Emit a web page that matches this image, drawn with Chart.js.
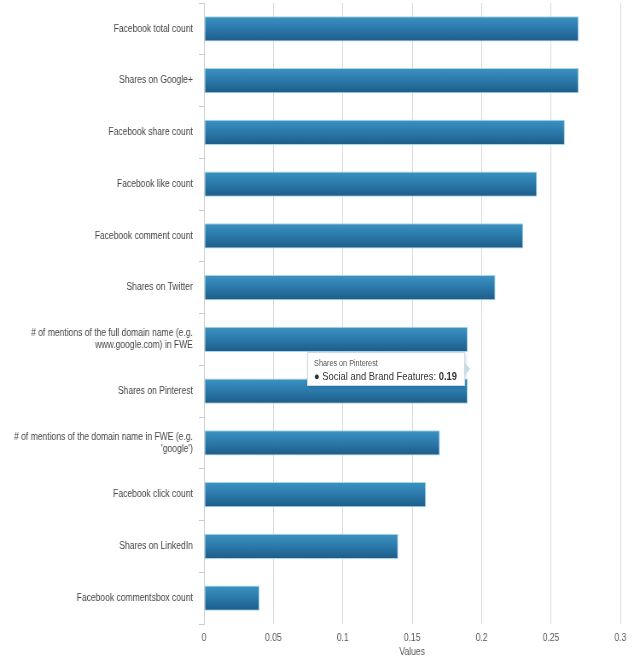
<!DOCTYPE html>
<html>
<head>
<meta charset="utf-8">
<script src="https://cdn.jsdelivr.net/npm/chart.js@4"></script>
<style>
  html, body { margin: 0; padding: 0; background: #fff; overflow: hidden; }
  /* the reference is squeezed sideways, so draw wider and scale down in x */
  #wrap { position: relative; width: 750px; height: 664px; transform: scaleX(0.85333); transform-origin: 0 0; }
  #tip {
    position: absolute; background: #fff; border: 1px solid #c9dce6;
    box-shadow: 1px 1px 3px rgba(0,0,0,0.15); padding: 5px 8px 4px 7px;
    font-family: "Liberation Sans", Arial, sans-serif; color: #333;
    white-space: nowrap; display: none; box-sizing: border-box; height: 34px;
  }
  #tip .t { font-size: 8.5px; color: #555; margin-bottom: 2px; }
  #tip .b { font-size: 11px; }
  #tip:after {
    content: ""; position: absolute; right: -7px; top: 50%; margin-top: -7px;
    border-top: 7px solid transparent; border-bottom: 7px solid transparent;
    border-left: 7px solid #c9dce6;
  }
</style>
</head>
<body>
<div id="wrap">
  <canvas id="chart" width="750" height="664"></canvas>
  <div id="tip"></div>
</div>
<script>
const categories = [
  "Facebook total count",
  "Shares on Google+",
  "Facebook share count",
  "Facebook like count",
  "Facebook comment count",
  "Shares on Twitter",
  ["# of mentions of the full domain name (e.g.", "www.google.com) in FWE"],
  "Shares on Pinterest",
  ["# of mentions of the domain name in FWE (e.g.", "'google')"],
  "Facebook click count",
  "Shares on LinkedIn",
  "Facebook commentsbox count"
];
const seriesName = "Social and Brand Features";
const values = [0.27, 0.27, 0.26, 0.24, 0.23, 0.21, 0.19, 0.19, 0.17, 0.16, 0.14, 0.04];
const xTicks = [0, 0.05, 0.1, 0.15, 0.2, 0.25, 0.3];
const activeIndex = 7;
const fontFamily = "'Liberation Sans', Arial, sans-serif";

/* vertical gradient for each bar */
function barFill(ctx) {
  const chart = ctx.chart;
  const y = chart.scales.y;
  if (!y || ctx.dataIndex === undefined) return "#2a79aa";
  const c = y.getPixelForValue(ctx.dataIndex);
  const h = (y.height / categories.length) * 0.49;
  if (!isFinite(c) || !isFinite(h) || h <= 0) return "#2a79aa";
  const g = chart.ctx.createLinearGradient(0, c - h / 2, 0, c + h / 2);
  g.addColorStop(0, "#3c93c2");
  g.addColorStop(0.5, "#2a79aa");
  g.addColorStop(1, "#1d5b86");
  return g;
}

/* html tooltip */
function drawTip(context) {
  const tip = document.getElementById("tip");
  const tt = context.tooltip;
  if (tt.opacity === 0 || !tt.dataPoints || !tt.dataPoints.length) {
    tip.style.display = "none";
    return;
  }
  const dp = tt.dataPoints[0];
  const label = categories[dp.dataIndex];
  tip.innerHTML =
    '<div class="t">' + (Array.isArray(label) ? label.join(" ") : label) + '</div>' +
    '<div class="b">&#9679; ' + seriesName + ': <b>' + values[dp.dataIndex] + '</b></div>';
  tip.style.display = "block";
  const el = dp.element;
  tip.style.left = (el.x - 4 - tip.offsetWidth) + "px";
  tip.style.top = (el.y - 22 - tip.offsetHeight / 2) + "px";
}

const chart = new Chart(document.getElementById("chart"), {
  type: "bar",
  data: {
    labels: categories,
    datasets: [{
      label: seriesName,
      data: values,
      backgroundColor: barFill,
      borderColor: "#a6d6ec",
      borderWidth: 1,
      borderSkipped: false,
      categoryPercentage: 1,
      barPercentage: 0.49
    }]
  },
  options: {
    indexAxis: "y",
    responsive: false,
    animation: false,
    layout: { padding: { top: 3, right: 23, left: 0, bottom: 6 } },
    plugins: {
      legend: { display: false },
      tooltip: { enabled: false, external: drawTip }
    },
    scales: {
      x: {
        min: 0,
        max: 0.3,
        afterBuildTicks: (s) => { s.ticks = xTicks.map(v => ({ value: v })); },
        ticks: {
          color: "#555",
          font: { family: fontFamily, size: 10 },
          padding: 8,
          callback: (v) => String(Number(v.toFixed(2)))
        },
        grid: { color: "#d8d8d8", drawTicks: false },
        border: { display: false },
        title: {
          display: true,
          text: "Values",
          color: "#555",
          font: { family: fontFamily, size: 10 },
          padding: { top: -6, bottom: 0 }
        }
      },
      y: {
        afterFit: (s) => { s.width = 239; s.paddingTop = 0; s.paddingBottom = 0; },
        ticks: {
          color: "#444",
          font: { family: fontFamily, size: 10 },
          padding: 7
        },
        grid: { drawOnChartArea: false, drawTicks: true, tickLength: 6, color: "#ccc" },
        border: { color: "#ccc" }
      }
    }
  }
});

chart.update();
chart.tooltip.setActiveElements([{ datasetIndex: 0, index: activeIndex }], { x: 0, y: 0 });
chart.update();
</script>
</body>
</html>
